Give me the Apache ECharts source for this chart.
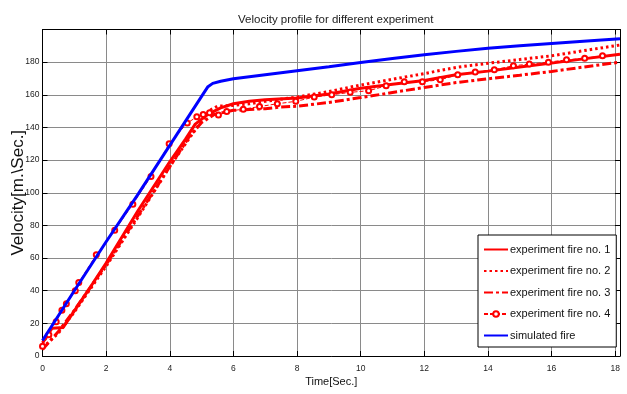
<!DOCTYPE html>
<html>
<head>
<meta charset="utf-8">
<script src="https://cdn.jsdelivr.net/npm/echarts@6/dist/echarts.min.js"></script>
<style>
html,body{margin:0;padding:0;background:#fff;}
#chart{width:627px;height:394px;}
</style>
</head>
<body>
<div id="chart"></div>
<script>
// ---- data ----
const chartTitle = 'Velocity profile for different experiment';
const xName = 'Time[Sec.]';
const yName = 'Velocity[m.\\Sec.]';
const seriesNames = ['experiment fire no. 1', 'experiment fire no. 2', 'experiment fire no. 3', 'experiment fire no. 4', 'simulated fire'];

const t1 = [0, 0.3, 0.65, 1.43, 2, 3, 4, 4.5, 4.8, 5.2, 5.6, 6, 6.5, 7, 8, 9, 10, 11, 12, 13, 14, 15, 16, 17, 18.15];
const v1 = [8, 17, 17.5, 40, 57, 89, 119, 133, 142, 148, 152, 154.5, 156, 157, 158, 160.5, 164, 166.5, 168.8, 172.3, 174.5, 177, 179.4, 182, 184.8];

const t2 = [0, 0.5, 1, 2, 3, 4, 4.6, 5, 5.3, 5.5, 6, 6.5, 7, 8, 9, 10, 11, 12, 13, 14, 15, 16, 17, 18.15];
const v2 = [5, 14, 27, 55, 85, 116, 133, 144, 151, 153, 153.5, 154.5, 156, 158.6, 162, 166, 169.5, 173, 176.8, 179.3, 181.6, 183.9, 187, 190.5];

const t3 = [0, 0.5, 1, 2, 3, 4, 4.6, 5, 5.4, 6, 7, 7.5, 8, 9, 10, 11, 12, 13, 14, 15, 16, 17, 18.15];
const v3 = [4, 15, 28, 56, 86, 116, 134, 143, 148, 150.5, 151.5, 152.5, 153, 155.3, 158.3, 161.4, 164.5, 167.5, 169.8, 172, 174.3, 177, 180];

const t4 = [0, 0.2, 0.43, 0.61, 0.75, 1.03, 1.14, 1.69, 2.27, 2.84, 3.41, 3.98, 4.55, 4.85, 5.05, 5.25, 5.53, 5.79, 6.31, 6.82, 7.38, 7.96, 8.54, 9.09, 9.67, 10.25, 10.8, 11.37, 11.94, 12.5, 13.05, 13.6, 14.2, 14.8, 15.3, 15.9, 16.47, 17.04, 17.6];
const v4 = [6, 13, 21, 28, 32, 40, 45, 62, 77, 93, 110, 130, 142.7, 146.5, 148, 149, 147.7, 149.8, 151.2, 152.8, 154.5, 156, 158.6, 160, 161.5, 162.5, 165.5, 168, 168, 169.2, 172.3, 173.9, 175.3, 177.8, 178.8, 180, 181.4, 182.4, 183.9];

const t5 = [0, 1, 2, 3, 4, 5, 5.2, 5.35, 5.6, 6, 7, 8, 9, 10, 11, 12, 13, 14, 15, 16, 17, 18.15];
const v5 = [9.5, 40, 70, 99, 129, 159, 165, 167, 168.3, 169.8, 172.3, 174.8, 177.2, 179.8, 182.3, 184.5, 186.6, 188.5, 190, 191.4, 192.8, 194.3];

const xMin = 0, xMax = 18.15, xStep = 2;
const yMin = 0, yMax = 200, yStep = 20;

// ---- chart ----
const pair = (t, v) => t.map((x, i) => [x, v[i]]);
const font = "'Liberation Sans', Arial, sans-serif";
const gridColor = '#8a8a8a';

const chart = echarts.init(document.getElementById('chart'), null, {renderer: 'canvas'});

const baseX = {
  type: 'value', min: xMin, max: xMax, interval: xStep,
  axisLine: {show: true, onZero: false, lineStyle: {color: '#000', width: 1}},
  axisTick: {show: true, inside: true, length: 5, lineStyle: {color: '#000'}},
};
const baseY = {
  type: 'value', min: yMin, max: yMax, interval: yStep,
  axisLine: {show: true, onZero: false, lineStyle: {color: '#000', width: 1}},
  axisTick: {show: true, inside: true, length: 5, lineStyle: {color: '#000'}},
};

const noMarker = {opacity: 0};

chart.setOption({
  animation: false,
  backgroundColor: '#fff',
  title: {
    text: chartTitle, left: 233, top: 9,
    textStyle: {fontFamily: font, fontSize: 11.5, fontWeight: 'normal', color: '#222'}
  },
  grid: {left: 42.5, right: 7, top: 29.5, bottom: 38, containLabel: false, outerBoundsMode: 'none'},
  legend: {
    orient: 'vertical', left: 478, top: 235,
    padding: [9, 6, 6, 5], itemGap: 10.5, itemWidth: 24, itemHeight: 7,
    backgroundColor: '#fff', borderColor: '#000', borderWidth: 1, borderRadius: 0,
    textStyle: {fontFamily: font, fontSize: 11, color: '#111', padding: [0, 0, 0, -3]},
    data: [
      {name: seriesNames[0], itemStyle: noMarker},
      {name: seriesNames[1], itemStyle: noMarker},
      {name: seriesNames[2], itemStyle: noMarker},
      {name: seriesNames[3]},
      {name: seriesNames[4], itemStyle: noMarker}
    ]
  },
  xAxis: [
    Object.assign({}, baseX, {
      position: 'bottom',
      name: xName, nameLocation: 'middle', nameGap: 20, nameMoveOverlap: false,
      nameTextStyle: {fontFamily: font, fontSize: 11, color: '#111'},
      axisLabel: {show: true, showMaxLabel: false, margin: 8, fontFamily: font, fontSize: 8.5, color: '#222'},
      splitLine: {show: true, lineStyle: {color: gridColor, width: 1}}
    }),
    Object.assign({}, baseX, {
      position: 'top',
      axisLabel: {show: false}, splitLine: {show: false}
    })
  ],
  yAxis: [
    Object.assign({}, baseY, {
      position: 'left',
      name: yName, nameLocation: 'middle', nameGap: 16, nameRotate: 90, nameMoveOverlap: false,
      nameTextStyle: {fontFamily: font, fontSize: 17, color: '#111'},
      axisLabel: {show: true, showMaxLabel: false, margin: 3, fontFamily: font, fontSize: 8.5, color: '#222'},
      splitLine: {show: true, lineStyle: {color: gridColor, width: 1}}
    }),
    Object.assign({}, baseY, {
      position: 'right',
      axisLabel: {show: false}, splitLine: {show: false}
    })
  ],
  series: [
    {
      name: seriesNames[0], type: 'line', data: pair(t1, v1), symbol: 'none',
      lineStyle: {color: '#ff0000', width: 3}, itemStyle: {color: '#ff0000'}, z: 2
    },
    {
      name: seriesNames[1], type: 'line', data: pair(t2, v2), symbol: 'none',
      lineStyle: {color: '#ff0000', width: 3, type: [2.5, 3]}, itemStyle: {color: '#ff0000'}, z: 2
    },
    {
      name: seriesNames[2], type: 'line', data: pair(t3, v3), symbol: 'none',
      lineStyle: {color: '#ff0000', width: 3, type: [9, 3, 3, 3]}, itemStyle: {color: '#ff0000'}, z: 2
    },
    {
      name: seriesNames[3], type: 'line', data: pair(t4, v4), symbol: 'emptyCircle', symbolSize: 5,
      showAllSymbol: true,
      lineStyle: {color: '#ff0000', width: 1, type: [4, 2]},
      itemStyle: {color: '#ff0000', borderColor: '#ff0000', borderWidth: 1}, z: 3
    },
    {
      name: seriesNames[4], type: 'line', data: pair(t5, v5), symbol: 'none',
      lineStyle: {color: '#0000ff', width: 3}, itemStyle: {color: '#0000ff'}, z: 4
    }
  ]
});
</script>
</body>
</html>
